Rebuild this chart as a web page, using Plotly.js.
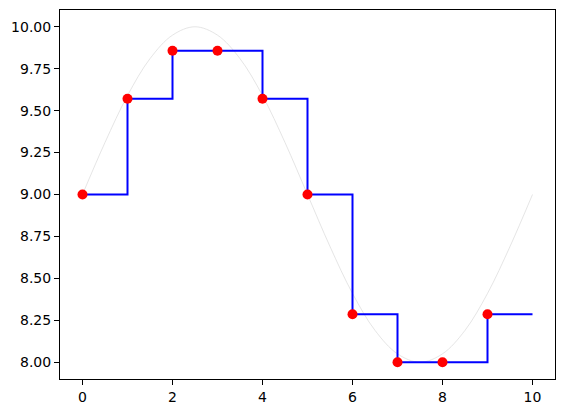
<!DOCTYPE html>
<html>
<head>
<meta charset="utf-8">
<script src="https://cdn.plot.ly/plotly-3.0.1.min.js"></script>
<style>
  html, body { margin: 0; padding: 0; background: #fff; }
  #chart { width: 565px; height: 413px; }
</style>
</head>
<body>
<div id="chart"></div>
<script>
// -----------------------
// Datos
// -----------------------
const stepX = [0, 1, 2, 3, 4, 5, 6, 7, 8, 9, 10];
const stepY = [9.0, 9.571, 9.857, 9.857, 9.571, 9.0, 8.286, 8.0, 8.0, 8.286, 8.286];

const pointX = [0, 1, 2, 3, 4, 5, 6, 7, 8, 9];
const pointY = [9.0, 9.571, 9.857, 9.857, 9.571, 9.0, 8.286, 8.0, 8.0, 8.286];

// curva gris de fondo, leída cada 0.5
const curveX = [0, 0.5, 1, 1.5, 2, 2.5, 3, 3.5, 4, 4.5, 5, 5.5, 6, 6.5, 7, 7.5, 8, 8.5, 9, 9.5, 10];
const curveY = [9.0, 9.31, 9.59, 9.81, 9.95, 10.0, 9.95, 9.81, 9.59, 9.31, 9.0,
                8.69, 8.41, 8.19, 8.05, 8.0, 8.05, 8.19, 8.41, 8.69, 9.0];

const xTicks = [0, 2, 4, 6, 8, 10];
const yTicks = [8.0, 8.25, 8.5, 8.75, 9.0, 9.25, 9.5, 9.75, 10.0];

// -----------------------
// Trazas
// -----------------------
const curve = {
  x: curveX, y: curveY,
  type: "scatter", mode: "lines",
  line: { color: "#d3d3d3", width: 0.6, shape: "spline", smoothing: 1 },
  hoverinfo: "skip"
};

const steps = {
  x: stepX, y: stepY,
  type: "scatter", mode: "lines",
  line: { color: "#0000ff", width: 2, shape: "hv" }
};

const points = {
  x: pointX, y: pointY,
  type: "scatter", mode: "markers",
  marker: { color: "#ff0000", size: 10 }
};

const axisBase = {
  showgrid: false,
  zeroline: false,
  showline: true,
  mirror: true,
  linecolor: "#000",
  linewidth: 1,
  ticks: "outside",
  ticklen: 5,
  tickwidth: 1,
  tickcolor: "#000",
  tickfont: { family: "DejaVu Sans", size: 14, color: "#000" }
};

const layout = {
  width: 565,
  height: 413,
  margin: { l: 60, r: 10, t: 10, b: 34 },
  paper_bgcolor: "#fff",
  plot_bgcolor: "#fff",
  showlegend: false,
  xaxis: Object.assign({}, axisBase, {
    range: [-0.5, 10.5],
    tickvals: xTicks,
    ticktext: xTicks.map(String)
  }),
  yaxis: Object.assign({}, axisBase, {
    range: [7.9, 10.1],
    tickvals: yTicks,
    ticktext: yTicks.map(v => v.toFixed(2))
  })
};

Plotly.newPlot("chart", [curve, steps, points], layout, { staticPlot: true });
</script>
</body>
</html>
